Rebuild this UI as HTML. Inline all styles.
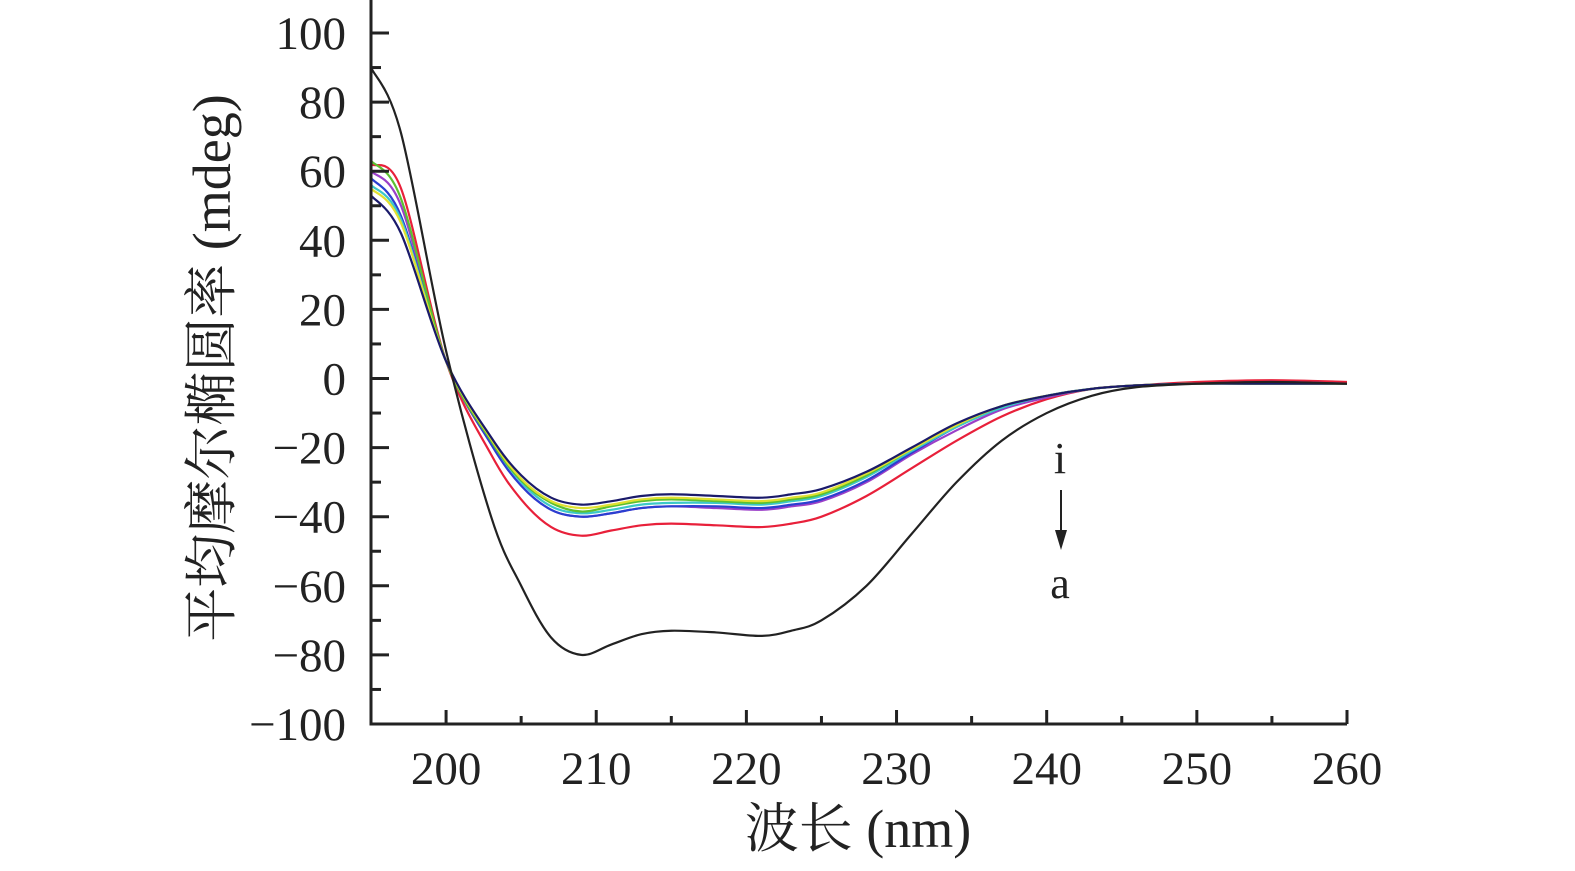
<!DOCTYPE html>
<html><head><meta charset="utf-8"><style>
body{margin:0;background:#fff}
svg text{font-family:"Liberation Serif","Noto Serif CJK SC",serif;fill:#222}
</style></head><body>
<svg id="chart" width="1575" height="866" xmlns="http://www.w3.org/2000/svg">
<g id="plot"></g>
<g id="axes"></g>
<text x="858" y="847" font-size="54" text-anchor="middle">波长 (nm)</text>
<text transform="translate(230,368) rotate(-90)" font-size="54" text-anchor="middle">平均摩尔椭圆率 (mdeg)</text>
<text x="1060" y="473" font-size="44" text-anchor="middle">i</text>
<line x1="1061" y1="490" x2="1061" y2="535" stroke="#222" stroke-width="2"/>
<polygon points="1055,530 1067,530 1061,550" fill="#222"/>
<text x="1060" y="598" font-size="44" text-anchor="middle">a</text>
</svg>
<script>
const wavelengths=[195,197,200,203,205,207,209,211,213,215,218,221,223,225,228,231,234,237,240,243,246,250,255,260];
const seriesBlack=[90,71,8,-40,-60,-75,-80,-77,-74,-73,-73.5,-74.5,-73,-70,-60,-45,-30,-18,-10,-5,-2.5,-1.5,-1,-1.5];
const seriesRed=[62,55,5,-22,-35,-43,-45.5,-44,-42.5,-42,-42.5,-43,-42,-40,-34,-26,-18,-11,-6,-3,-2,-1,-0.5,-1];
const seriesPurple=[60,50,5,-19,-31,-38,-40,-39,-37.5,-37,-37.5,-38,-37,-35.5,-30,-22,-15,-9,-5.5,-3,-2,-1.5,-1,-1.5];
const seriesBlue=[58,47,5,-19,-31,-38,-40,-39,-37.5,-37,-37,-37.5,-36.5,-35,-29.5,-21.5,-14,-8.5,-5,-3,-2,-1.5,-1.5,-1.5];
const seriesCyan=[56,46,5,-18,-30,-37,-39,-38,-36.5,-36,-36,-36.5,-35.5,-34,-28.5,-21,-14,-8.5,-5,-3,-2,-1.5,-1.5,-1.5];
const seriesGreen=[63,52,5,-18,-29.5,-36,-38.5,-37,-35.5,-35,-35.5,-36,-35,-33.5,-28,-20.5,-13.5,-8,-5,-3,-2,-1.5,-1.5,-1.5];
const seriesYellow=[55,45,5,-17.5,-29,-35.5,-37.5,-36.5,-35,-34.5,-35,-35.5,-34.5,-33,-27.5,-20.5,-13.5,-8,-5,-3,-2,-1.5,-1.5,-1.5];
const seriesNavy=[53,42,5,-17,-28,-34.5,-36.5,-35.5,-34,-33.5,-34,-34.5,-33.5,-32,-27,-20,-13,-8,-5,-3,-2,-1.5,-1.5,-1.5];
const xTicks=[200,210,220,230,240,250,260];
const yTicks=[100,80,60,40,20,0,-20,-40,-60,-80,-100];
const NS="http://www.w3.org/2000/svg";
const X0=371,X1=1347,Y0=724,Y1=33;
const xs=v=>X0+(v-195)/(260-195)*(X1-X0);
const ys=v=>Y0-(v+100)/200*(Y0-Y1);
function mk(t,a){const e=document.createElementNS(NS,t);for(const k in a)e.setAttribute(k,a[k]);return e;}
const plot=document.getElementById('plot'),axes=document.getElementById('axes');
function pathD(vals){const p=wavelengths.map((w,i)=>[xs(w),ys(vals[i])]);let d=`M${p[0][0]},${p[0][1]}`;
for(let i=0;i<p.length-1;i++){const a=p[Math.max(0,i-1)],b=p[i],c=p[i+1],e=p[Math.min(p.length-1,i+2)];
d+=` C${b[0]+(c[0]-a[0])/6},${b[1]+(c[1]-a[1])/6} ${c[0]-(e[0]-b[0])/6},${c[1]-(e[1]-b[1])/6} ${c[0]},${c[1]}`;}return d;}
const list=[['series-red',seriesRed,'#e8203a'],['series-purple',seriesPurple,'#9b3fc8'],['series-blue',seriesBlue,'#2a3fd0'],['series-cyan',seriesCyan,'#3cc8c8'],['series-green',seriesGreen,'#5cc030'],['series-yellow',seriesYellow,'#e0e030'],['series-navy',seriesNavy,'#1a1a6a'],['series-black',seriesBlack,'#222']];
list.forEach(([n,v,c])=>{const el=mk('path',{d:pathD(v),fill:'none',stroke:c,'stroke-width':2.2});


plot.appendChild(el);});
axes.appendChild(mk('path',{d:`M${X0},0 V${Y0} H${X1}`,fill:'none',stroke:'#222','stroke-width':3}));
for(let v=-100;v<=100;v+=10){const maj=v%20===0;axes.appendChild(mk('line',{x1:X0,x2:X0+(maj?18:10),y1:ys(v),y2:ys(v),stroke:'#222','stroke-width':3}));}
for(let v=195;v<=260;v+=5){const maj=v%10===0;axes.appendChild(mk('line',{x1:xs(v),x2:xs(v),y1:Y0,y2:Y0-(maj?14:8),stroke:'#222','stroke-width':3}));}
yTicks.forEach(v=>{const t=mk('text',{x:346,y:ys(v)+16,'font-size':47,'text-anchor':'end'});t.textContent=v<0?'\u2212'+(-v):v;


axes.appendChild(t);});
xTicks.forEach(v=>{const t=mk('text',{x:xs(v),y:784,'font-size':47,'text-anchor':'middle'});t.textContent=v;


axes.appendChild(t);});
</script>
</body></html>
